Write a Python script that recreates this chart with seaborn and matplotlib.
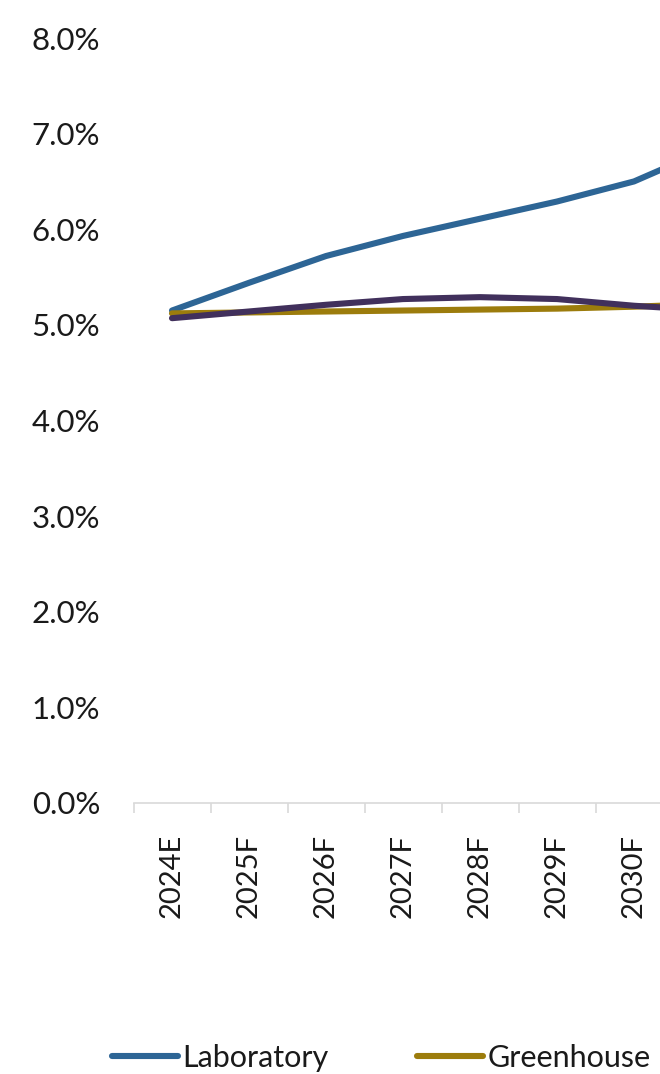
import matplotlib
matplotlib.use("Agg")
import matplotlib.pyplot as plt
import numpy as np
import pandas as pd
import seaborn as sns
from matplotlib.lines import Line2D
from matplotlib.ticker import FixedLocator, PercentFormatter

########################################
# Data (percent growth)

years = ["2024E", "2025F", "2026F", "2027F", "2028F", "2029F", "2030F", "2031F"]
laboratory = [5.15, 5.44, 5.72, 5.93, 6.11, 6.29, 6.50, 6.85]
greenhouse = [5.12, 5.13, 5.14, 5.15, 5.16, 5.17, 5.19, 5.22]
third_series = [5.07, 5.14, 5.21, 5.27, 5.29, 5.27, 5.20, 5.15]

series_names = ["Laboratory", "Greenhouse", "Other"]
colors = ["#2d6595", "#9c7c0c", "#41305c"]

########################################
# Long table for seaborn

df = pd.DataFrame({
    "year": years * 3,
    "value": laboratory + greenhouse + third_series,
    "series": np.repeat(series_names, len(years)),
})

sns.set_theme(style="white")
plt.rcParams["font.family"] = ["Lato", "DejaVu Sans"]
text_color = "#1a1a1a"

fig = plt.figure(figsize=(6.6, 10.74), dpi=100)
# axes run past the right edge, the source image is a crop of a wider chart
ax = fig.add_axes([133.5 / 660, 271 / 1074, 616 / 660, 765 / 1074])

sns.lineplot(
    data=df, x="year", y="value", hue="series", hue_order=series_names,
    palette=colors, linewidth=4.4, sort=False, legend=False, ax=ax,
)

ax.set_xlim(-0.5, len(years) - 0.5)
ax.set_ylim(0, 8)
ax.yaxis.set_major_locator(FixedLocator(np.arange(0, 9, 1)))
ax.yaxis.set_major_formatter(PercentFormatter(decimals=1))
ax.set_xlabel("")
ax.set_ylabel("")
# last category lies outside the cropped view, keep its label empty
ax.set_xticks(range(len(years)))
ax.set_xticklabels(years[:-1] + [""])

for side in ["top", "right", "left"]:
    ax.spines[side].set_visible(False)
ax.spines["bottom"].set_color("#d9d9d9")
ax.spines["bottom"].set_linewidth(1.2)

ax.tick_params(axis="y", length=0, pad=24, labelsize=22.5, labelcolor=text_color)
ax.tick_params(axis="x", which="major", length=0, pad=22, labelsize=21,
               labelcolor=text_color, labelrotation=90)
ax.xaxis.set_minor_locator(FixedLocator(np.arange(-0.5, len(years), 1)))
ax.tick_params(axis="x", which="minor", bottom=True, length=7, width=1.2,
               color="#d9d9d9")

handles = [Line2D([], [], color=c, linewidth=4.4, solid_capstyle="round")
           for c in colors[:2]]
fig.legend(
    handles, series_names[:2], loc="center left", bbox_to_anchor=(112 / 660, 1 - 1058 / 1074),
    ncol=2, frameon=False, fontsize=22, handlelength=2.15, handletextpad=0.16,
    columnspacing=2.9, labelcolor=text_color, borderaxespad=0, borderpad=0,
)

fig.savefig("out.png", dpi=100)
